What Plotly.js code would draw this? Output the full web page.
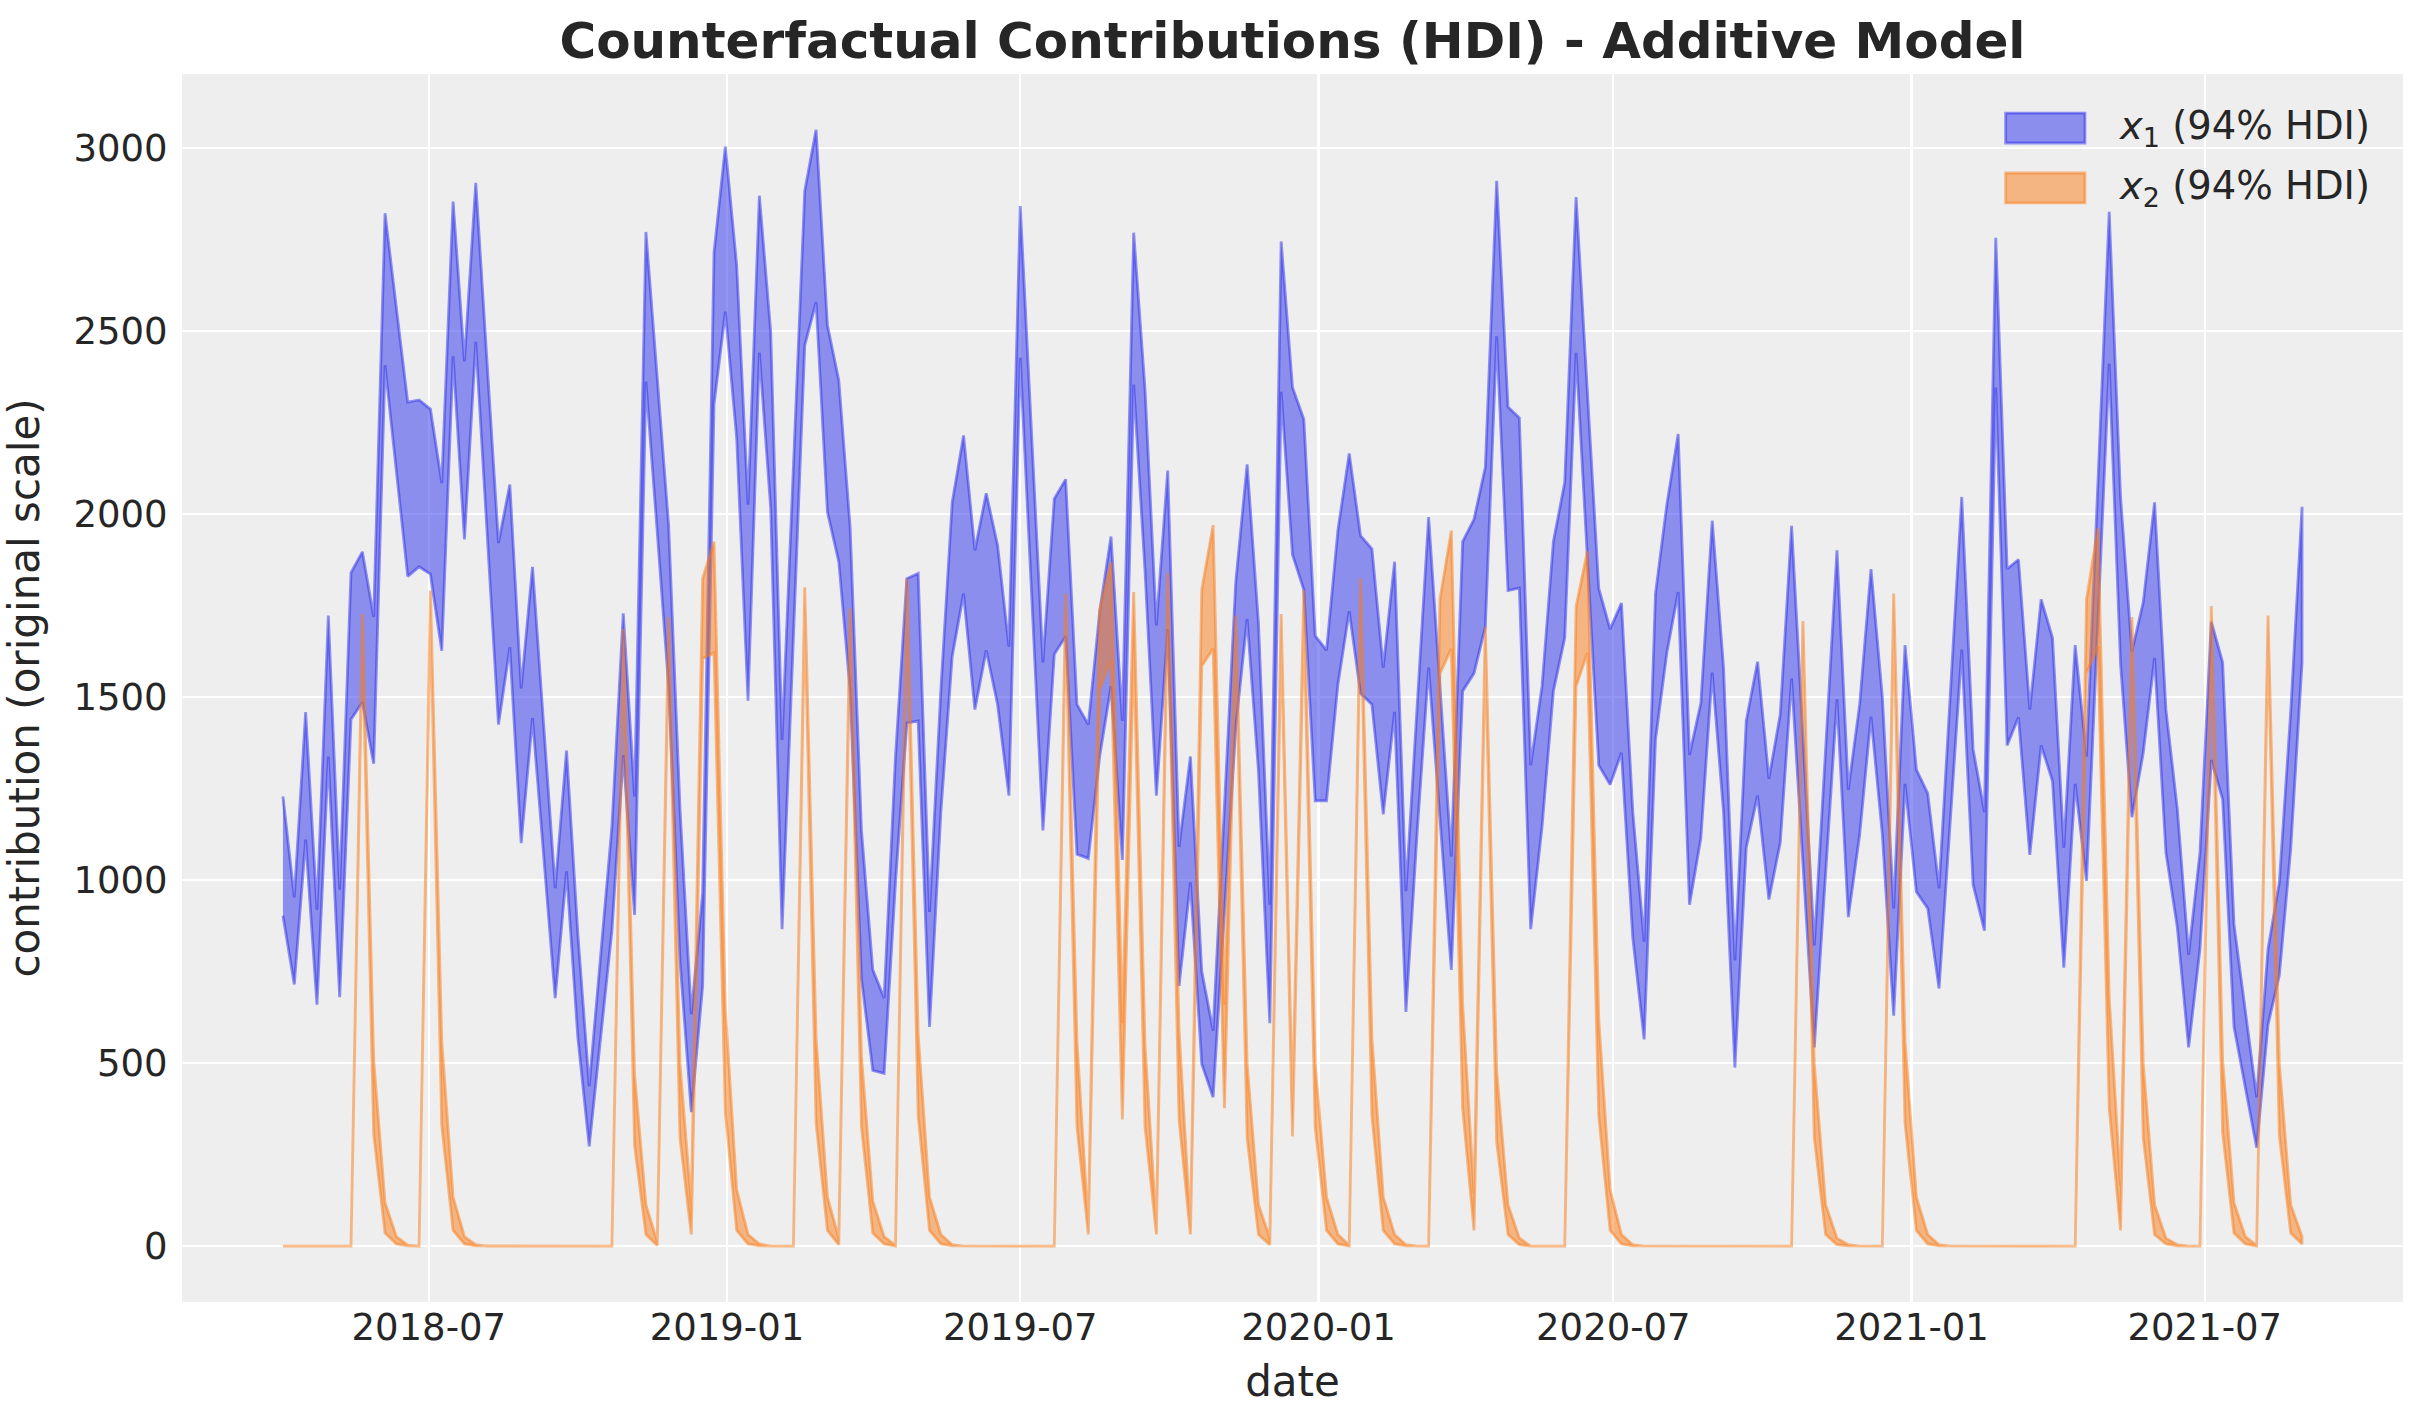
<!DOCTYPE html>
<html>
<head>
<meta charset="utf-8">
<script src="https://cdn.plot.ly/plotly-3.0.1.min.js"></script>
<style>
  html, body { margin: 0; padding: 0; background: #ffffff; }
  #chart { width: 2423px; height: 1423px; }
</style>
</head>
<body>
<div id="chart"></div>
<script>
// weekly index, first monday and number of weeks
var startDate = '2018-04-02';
var nWeeks = 179;

// x1 contribution, 94% HDI bounds
var x1Upper = [1229, 953, 1459, 919, 1723, 974, 1840, 1897, 1719, 2822,
  2563, 2306, 2312, 2287, 2085, 2854, 2417, 2905, 2411, 1921,
  2081, 1524, 1856, 1417, 978, 1354, 852, 437, 790, 1146,
  1729, 1229, 2771, 2370, 1970, 1196, 634, 964, 2714, 3004,
  2680, 2026, 2870, 2498, 1383, 2128, 2883, 3050, 2516, 2366,
  1965, 1136, 755, 678, 1338, 1824, 1838, 913, 1520, 2032,
  2215, 1901, 2057, 1915, 1638, 2842, 2219, 1595, 2042, 2095,
  1480, 1425, 1733, 1939, 1435, 2769, 2340, 1696, 2119, 1091,
  1338, 751, 589, 1204, 1816, 2136, 1702, 933, 2745, 2346,
  2259, 1668, 1628, 1955, 2166, 1941, 1905, 1581, 1870, 970,
  1480, 1992, 1530, 1065, 1925, 1986, 2128, 2911, 2293, 2263,
  1314, 1530, 1925, 2087, 2866, 2330, 1797, 1686, 1757, 1186,
  832, 1783, 2026, 2219, 1342, 1484, 1982, 1581, 781, 1435,
  1597, 1277, 1453, 1968, 1395, 822, 1358, 1901, 1247, 1480,
  1850, 1500, 923, 1642, 1302, 1237, 978, 1520, 2047, 1358,
  1186, 2755, 1850, 1876, 1466, 1767, 1662, 1089, 1642, 1338,
  2083, 2826, 2047, 1625, 1759, 2032, 1466, 1196, 796, 1075,
  1706, 1595, 879, 650, 407, 812, 994, 1460, 2020];

var x1Lower = [903, 715, 1111, 660, 1338, 680, 1439, 1486, 1318, 2407,
  2117, 1830, 1856, 1836, 1627, 2431, 1931, 2471, 1948, 1425,
  1636, 1101, 1443, 1061, 678, 1024, 569, 273, 568, 862,
  1342, 905, 2362, 1950, 1530, 781, 366, 711, 2300, 2553,
  2208, 1490, 2441, 2016, 866, 1662, 2461, 2579, 2006, 1870,
  1520, 731, 480, 472, 994, 1429, 1435, 599, 1186, 1611,
  1783, 1466, 1628, 1480, 1231, 2427, 1783, 1136, 1617, 1666,
  1071, 1059, 1338, 1530, 1055, 2354, 1844, 1231, 1686, 711,
  994, 498, 407, 913, 1419, 1713, 1298, 609, 2334, 1889,
  1793, 1217, 1217, 1534, 1735, 1510, 1480, 1180, 1460, 640,
  1136, 1581, 1166, 755, 1516, 1565, 1692, 2486, 1791, 1798,
  866, 1146, 1516, 1662, 2441, 1885, 1314, 1261, 1348, 842,
  565, 1383, 1621, 1787, 933, 1115, 1567, 1186, 488, 1089,
  1231, 947, 1103, 1551, 1046, 543, 1014, 1494, 899, 1124,
  1447, 1125, 630, 1263, 968, 923, 704, 1176, 1630, 988,
  862, 2346, 1368, 1445, 1069, 1368, 1271, 761, 1263, 998,
  1704, 2411, 1591, 1172, 1348, 1607, 1075, 872, 543, 812,
  1328, 1221, 599, 437, 269, 605, 741, 1085, 1595];

// x2 contribution, 94% HDI bounds
var x2Upper = [0, 0, 0, 0, 0, 0, 0, 1727, 508, 119,
  26, 3, 0, 1791, 559, 134, 26, 4, 0, 0,
  0, 0, 0, 0, 0, 0, 0, 0, 0, 0,
  1686, 468, 113, 12, 1719, 498, 113, 1824, 1925, 650,
  154, 32, 6, 0, 0, 0, 1800, 569, 134, 22,
  1743, 518, 123, 26, 2, 1824, 579, 134, 32, 4,
  0, 0, 0, 0, 0, 0, 0, 0, 0, 1783,
  559, 53, 1739, 1868, 609, 1787, 549, 53, 1840, 589,
  53, 1793, 1970, 660, 1723, 498, 113, 22, 1727, 380,
  1793, 498, 134, 32, 2, 1824, 569, 134, 32, 4,
  0, 0, 1767, 1955, 660, 144, 1692, 478, 113, 22,
  0, 0, 0, 0, 1747, 1899, 619, 154, 32, 4,
  0, 0, 0, 0, 0, 0, 0, 0, 0, 0,
  0, 0, 0, 0, 1708, 498, 113, 22, 4, 0,
  0, 0, 1783, 559, 134, 32, 4, 0, 0, 0,
  0, 0, 0, 0, 0, 0, 0, 0, 0, 1767,
  1962, 680, 164, 1719, 498, 113, 22, 4, 0, 0,
  1749, 508, 119, 26, 2, 1723, 498, 113, 26];

var x2Lower = [0, 0, 0, 0, 0, 0, 0, 1670, 306, 36,
  6, 1, 0, 1730, 330, 43, 6, 1, 0, 0,
  0, 0, 0, 0, 0, 0, 0, 0, 0, 0,
  1630, 275, 32, 2, 1662, 296, 32, 1605, 1621, 366,
  43, 6, 1, 0, 0, 0, 1733, 336, 43, 4,
  1682, 326, 36, 6, 0, 1763, 356, 43, 6, 1,
  0, 0, 0, 0, 0, 0, 0, 0, 0, 1720,
  326, 32, 1520, 1601, 346, 1640, 326, 32, 1760, 346,
  32, 1585, 1632, 377, 1660, 296, 32, 4, 1670, 300,
  1720, 326, 43, 6, 0, 1760, 356, 43, 6, 1,
  0, 0, 1565, 1632, 377, 43, 1630, 285, 32, 4,
  0, 0, 0, 0, 1530, 1621, 356, 43, 6, 1,
  0, 0, 0, 0, 0, 0, 0, 0, 0, 0,
  0, 0, 0, 0, 1650, 296, 32, 4, 1, 0,
  0, 0, 1720, 336, 43, 6, 1, 0, 0, 0,
  0, 0, 0, 0, 0, 0, 0, 0, 0, 1565,
  1638, 377, 43, 1660, 296, 32, 6, 1, 0, 0,
  1690, 310, 36, 6, 0, 1665, 302, 36, 6];

var yTicks = [0, 500, 1000, 1500, 2000, 2500, 3000];
var seriesNames = ['<i>x</i><sub>1</sub> (94% HDI)', '<i>x</i><sub>2</sub> (94% HDI)'];
var seriesColors = ['rgba(42,46,236,0.5)', 'rgba(250,124,23,0.5)'];

// build the weekly date axis
var dates = [];
var d0 = new Date(startDate + 'T00:00:00Z');
for (var i = 0; i < nWeeks; i++) {
  var d = new Date(d0.getTime() + i * 7 * 86400000);
  dates.push(d.toISOString().slice(0, 10));
}

// closed polygon (upper forward, lower backward), like fill_between
function band(upper, lower) {
  var xs = dates.concat(dates.slice().reverse());
  var ys = upper.concat(lower.slice().reverse());
  return {x: xs, y: ys};
}

var bands = [band(x1Upper, x1Lower), band(x2Upper, x2Lower)];

var traces = bands.map(function (b, k) {
  return {
    x: b.x, y: b.y, type: 'scatter', mode: 'lines', fill: 'toself',
    fillcolor: seriesColors[k],
    line: {color: seriesColors[k], width: 2.8},
    name: seriesNames[k], hoverinfo: 'skip', showlegend: false
  };
});

var fontFam = '"DejaVu Sans", "Liberation Sans", sans-serif';

// legend drawn as swatches + labels, placed like matplotlib's upper right legend
var shapes = [];
var annotations = [];
var legendRowsY = [0.956, 0.9072];
legendRowsY.forEach(function (yc, k) {
  shapes.push({
    type: 'rect', xref: 'paper', yref: 'paper',
    x0: 0.8211, x1: 0.8568, y0: yc - 0.0122, y1: yc + 0.0122,
    fillcolor: seriesColors[k],
    line: {color: seriesColors[k], width: 2.8}
  });
  annotations.push({
    xref: 'paper', yref: 'paper', x: 0.8712, y: yc,
    xanchor: 'left', yanchor: 'middle', showarrow: false,
    text: seriesNames[k],
    font: {family: fontFam, size: 38.5, color: '#262626'}
  });
});

var layout = {
  width: 2423, height: 1423,
  paper_bgcolor: '#ffffff', plot_bgcolor: '#eeeeee',
  margin: {l: 182, r: 20, t: 74, b: 121},
  font: {family: fontFam, color: '#262626', size: 37},
  title: {
    text: '<b>Counterfactual Contributions (HDI) - Additive Model</b>',
    font: {family: fontFam, size: 50, color: '#262626'},
    x: 0.5, xref: 'paper', xanchor: 'center',
    y: 1 - 40 / 1423, yref: 'container', yanchor: 'middle'
  },
  xaxis: {
    type: 'date',
    range: ['2018-01-29 16:48', '2021-10-31 07:12'],
    tick0: '2018-07-01', dtick: 'M6', tickformat: '%Y-%m',
    showgrid: true, gridcolor: '#ffffff', gridwidth: 2.2,
    zeroline: false, showline: false, ticks: '',
    tickfont: {size: 37, color: '#262626'},
    automargin: false,
    title: {text: 'date', font: {size: 42, color: '#262626'}, standoff: 18}
  },
  yaxis: {
    range: [-152.5, 3202.5],
    tickvals: yTicks,
    showgrid: true, gridcolor: '#ffffff', gridwidth: 2.2,
    zeroline: false, showline: false,
    ticks: 'outside', ticklen: 6, tickcolor: 'rgba(0,0,0,0)',
    tickfont: {size: 37, color: '#262626'},
    automargin: false,
    title: {text: 'contribution (original scale)', font: {size: 42, color: '#262626'}, standoff: 24}
  },
  shapes: shapes,
  annotations: annotations,
  showlegend: false
};

Plotly.newPlot('chart', traces, layout, {displayModeBar: false, staticPlot: true});
</script>
</body>
</html>
